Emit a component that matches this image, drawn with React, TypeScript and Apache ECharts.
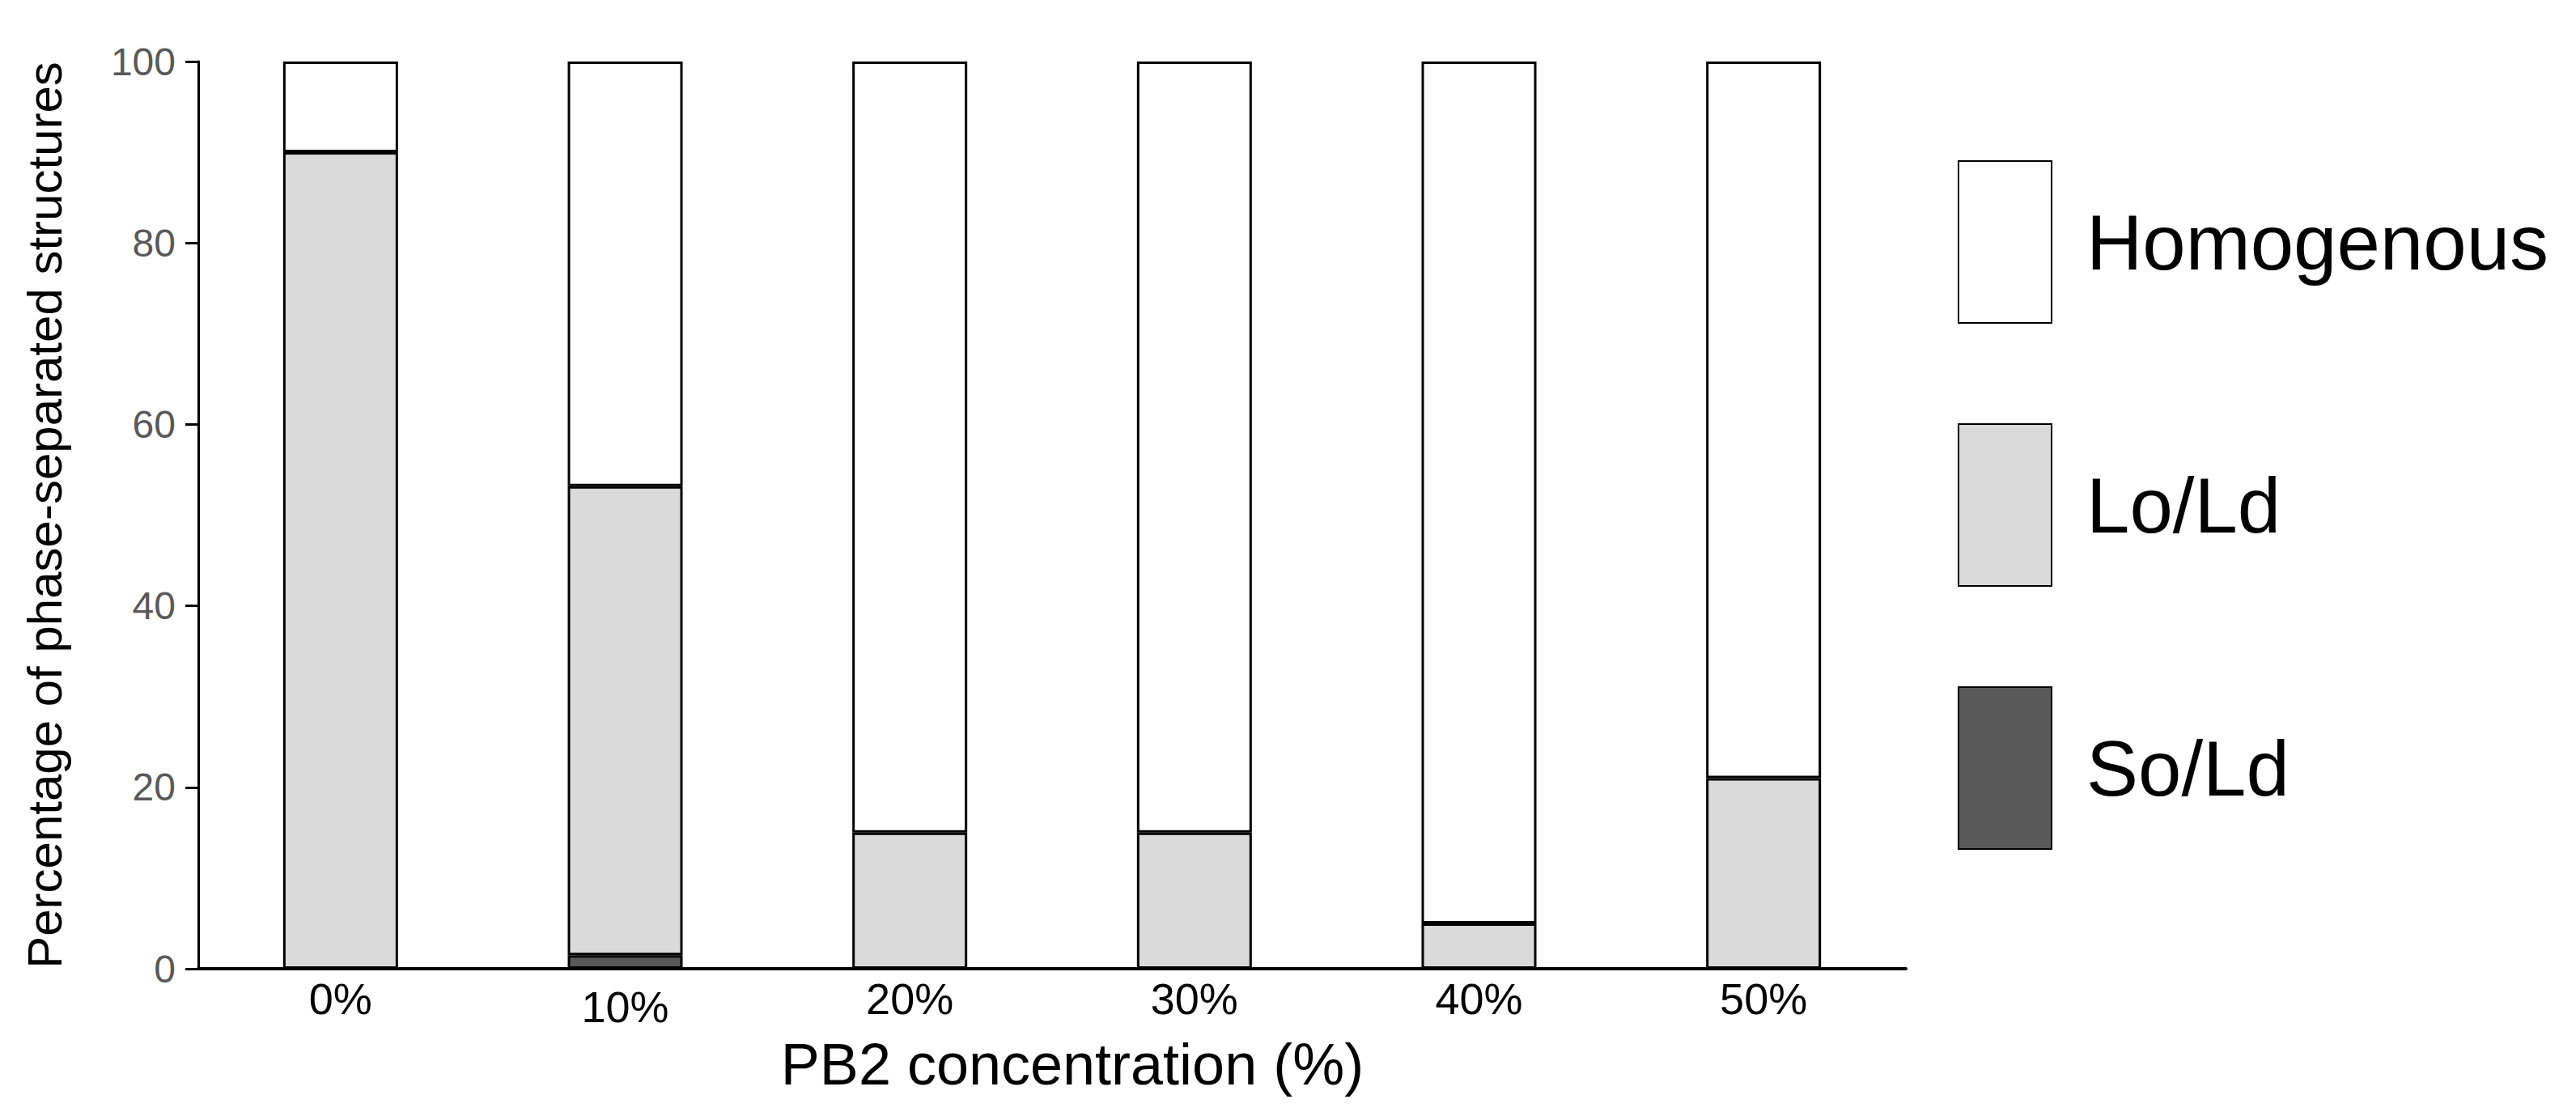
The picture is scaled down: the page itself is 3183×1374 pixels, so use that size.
import React, { useEffect, useRef } from "react";
import * as echarts from "echarts";

const categories = ["0%", "10%", "20%", "30%", "40%", "50%"];
const soLd = [0, 1.5, 0, 0, 0, 0];
const loLd = [90, 51.7, 15, 15, 5, 21];
const homogenous = [10, 46.8, 85, 85, 95, 79];
const yTicks = [0, 20, 40, 60, 80, 100];

const NARROW = "'Liberation Sans Narrow', 'Arial Narrow', 'Liberation Sans', Arial, sans-serif";
const REG = "'Liberation Sans', Arial, sans-serif";

export default function App() {
  const ref = useRef<HTMLDivElement>(null);
  useEffect(() => {
    if (!ref.current) return;
    const chart = echarts.init(ref.current, null, { renderer: "svg" });
    const border = { borderColor: "#000", borderWidth: 3 };
    const mk = (name: string, data: number[], color: string) => ({
      name,
      type: "bar",
      stack: "total",
      data,
      barWidth: 142,
      itemStyle: { color, ...border },
      emphasis: { disabled: true },
    });
    chart.setOption({
      animation: false,
      backgroundColor: "#fff",
      grid: { left: 245, right: 828, top: 76, bottom: 177, containLabel: false },
      xAxis: {
        type: "category",
        data: categories,
        axisLine: { lineStyle: { color: "#000", width: 4 } },
        axisTick: { show: false },
        axisLabel: {
          color: "#000",
          fontFamily: NARROW,
          fontSize: 54,
          margin: 10,
          formatter: (v: string) => (v === "10%" ? "{low|" + v + "}" : v),
          rich: {
            low: { fontFamily: NARROW, fontSize: 54, color: "#000", padding: [10, 0, 0, 0] },
          },
        },
        name: "PB2 concentration (%)",
        nameLocation: "middle",
        nameGap: 82,
        nameTextStyle: { color: "#000", fontFamily: NARROW, fontSize: 72, padding: [0, 0, 0, 50] },
      },
      yAxis: {
        type: "value",
        min: yTicks[0],
        max: yTicks[yTicks.length - 1],
        interval: 20,
        splitLine: { show: false },
        axisLine: { show: true, lineStyle: { color: "#000", width: 3 } },
        axisTick: { show: true, length: 16, lineStyle: { color: "#000", width: 3 } },
        axisLabel: { color: "#595959", fontFamily: NARROW, fontSize: 48, margin: 28 },
        name: "Percentage of phase-separated structures",
        nameLocation: "middle",
        nameRotate: 90,
        nameGap: 160,
        nameTextStyle: { color: "#000", fontFamily: REG, fontSize: 60 },
      },
      legend: {
        orient: "vertical",
        left: 2414,
        top: 193,
        itemWidth: 115,
        itemHeight: 200,
        itemGap: 123,
        icon: "rect",
        data: ["Homogenous", "Lo/Ld", "So/Ld"],
        selectedMode: false,
        textStyle: { color: "#000", fontFamily: REG, fontSize: 96, padding: [0, 0, 0, 38] },
      },
      series: [
        mk("So/Ld", soLd, "#595959"),
        mk("Lo/Ld", loLd, "#dadada"),
        mk("Homogenous", homogenous, "#ffffff"),
      ],
    });
    return () => chart.dispose();
  }, []);
  return (
    <div
      ref={ref}
      style={{ position: "fixed", left: 0, top: 0, width: 3183, height: 1374, background: "#fff" }}
    />
  );
}
